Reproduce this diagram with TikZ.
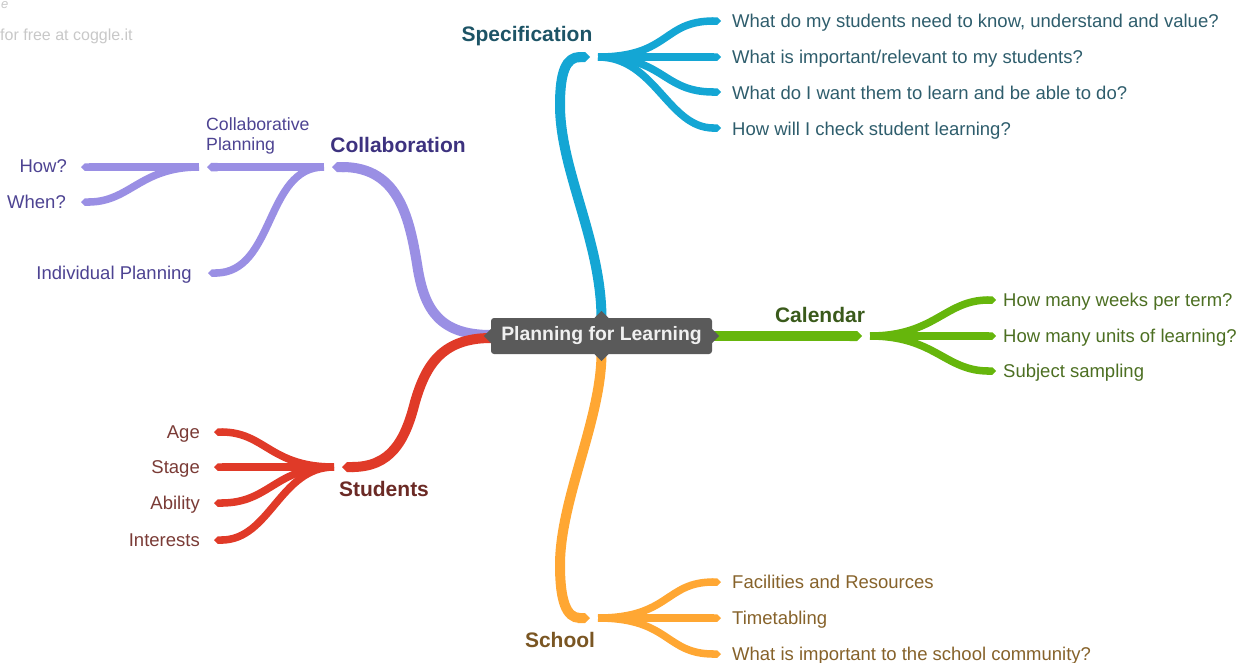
\documentclass[tikz,border=0pt]{standalone}
\usepackage{fontspec}
\setmainfont{Liberation Sans}
\usetikzlibrary{arrows.meta,backgrounds}
\definecolor{cblue}{HTML}{14A6D4}
\definecolor{cbluet}{HTML}{1D5466}
\definecolor{cbluel}{HTML}{2E5D6C}
\definecolor{cpurp}{HTML}{9A8FE4}
\definecolor{cpurpt}{HTML}{3D327F}
\definecolor{cpurpl}{HTML}{4D4392}
\definecolor{cred}{HTML}{E03A28}
\definecolor{credt}{HTML}{6B2A25}
\definecolor{credl}{HTML}{7A3B36}
\definecolor{corg}{HTML}{FFA733}
\definecolor{corgt}{HTML}{7A5623}
\definecolor{corgl}{HTML}{86622A}
\definecolor{cgrn}{HTML}{66B60C}
\definecolor{cgrnt}{HTML}{3A5A1B}
\definecolor{cgrnl}{HTML}{4C6F22}
\definecolor{cdark}{HTML}{5A5A5A}
\definecolor{cwm}{HTML}{C8C8C8}
\begin{document}
\begin{tikzpicture}[x=1pt,y=-1pt,
  trunk/.style={line width=10pt,-{Triangle Cap}},
  leaf/.style={line width=7.5pt,-{Triangle Cap}},
  lbl/.style={font=\fontsize{18.5}{22}\selectfont,inner sep=0pt,text height=14pt,text depth=2pt},
  lft/.style={lbl,anchor=west},
  rgt/.style={lbl,anchor=east},
  head/.style={font=\fontsize{21}{25}\selectfont\bfseries,inner sep=0pt},
  ptr/.style={fill=cdark}]
\useasboundingbox (0,0) rectangle (1239,662);

% watermark
\node[anchor=north west,inner sep=0pt,text=cwm,font=\fontsize{13}{13}\selectfont\itshape] (logo) at (1,1) {e};
\node[anchor=west,inner sep=0pt,text=cwm,font=\fontsize{16}{18}\selectfont] (wm) at (0,36) {for free at coggle.it};

% centre
\node[fill=cdark,rounded corners=3pt,minimum width=221pt,minimum height=36pt,inner sep=0pt,
      text=white!94!black,font=\fontsize{19.4}{22}\selectfont\bfseries] (C) at (601.5,336) {Planning for Learning};
\fill[ptr] ([xshift=-7pt]C.north) -- ([yshift=7pt]C.north) -- ([xshift=7pt]C.north) -- cycle;
\fill[ptr] ([xshift=-7pt]C.south) -- ([yshift=-7pt]C.south) -- ([xshift=7pt]C.south) -- cycle;
\fill[ptr] ([yshift=-7pt]C.west) -- ([xshift=-7pt]C.west) -- ([yshift=7pt]C.west) -- cycle;
\fill[ptr] ([yshift=-7pt]C.east) -- ([xshift=7pt]C.east) -- ([yshift=7pt]C.east) -- cycle;

% ---------- Specification ----------
\coordinate (sT) at (590,57);
\coordinate (sJ) at (598,57);
\coordinate (s1) at (721,21);
\coordinate (s2) at (721,57);
\coordinate (s3) at (721,92);
\coordinate (s4) at (721,128);
\node[head,text=cbluet] (spec) at (527,36) {Specification};
\node[lft,text=cbluel] (t1) at (732,21) {What do my students need to know, understand and value?};
\node[lft,text=cbluel] (t2) at (732,57) {What is important/relevant to my students?};
\node[lft,text=cbluel] (t3) at (732,93) {What do I want them to learn and be able to do?};
\node[lft,text=cbluel] (t4) at (732,129) {How will I check student learning?};

% ---------- Calendar ----------
\coordinate (kT) at (862,336);
\coordinate (kJ) at (870,336);
\coordinate (k1) at (996,300);
\coordinate (k2) at (996,336);
\coordinate (k3) at (996,371);
\node[head,text=cgrnt] (cal) at (820,315) {Calendar};
\node[lft,text=cgrnl] (u1) at (1003,300) {How many weeks per term?};
\node[lft,text=cgrnl] (u2) at (1003,336) {How many units of learning?};
\node[lft,text=cgrnl] (u3) at (1003,371) {Subject sampling};

% ---------- School ----------
\coordinate (hT) at (590,618);
\coordinate (hJ) at (598,618);
\coordinate (h1) at (721,582);
\coordinate (h2) at (721,618);
\coordinate (h3) at (721,654);
\node[head,text=corgt] (sch) at (560,640) {School};
\node[lft,text=corgl] (v1) at (732,582) {Facilities and Resources};
\node[lft,text=corgl] (v2) at (732,618) {Timetabling};
\node[lft,text=corgl] (v3) at (732,654) {What is important to the school community?};

% ---------- Collaboration ----------
\coordinate (cT) at (332,167);
\coordinate (cJ) at (324,167);
\coordinate (cpT) at (207,167);
\coordinate (cpJ) at (199,167);
\coordinate (hw) at (81,167);
\coordinate (wn) at (81,202);
\coordinate (ip) at (208,273);
\node[head,text=cpurpt] (col) at (398,145) {Collaboration};
\node[anchor=north west,inner sep=0pt,align=left,text=cpurpl,font=\fontsize{17.7}{20}\selectfont] (cp) at (206,117) {Collaborative\\Planning};
\node[rgt,text=cpurpl] (w1) at (67,166) {How?};
\node[rgt,text=cpurpl] (w2) at (66,202) {When?};
\node[rgt,text=cpurpl] (w3) at (192,273) {Individual Planning};

% ---------- Students ----------
\coordinate (stT) at (342,467);
\coordinate (stJ) at (334,467);
\coordinate (a1) at (214,432);
\coordinate (a2) at (214,467);
\coordinate (a3) at (214,503);
\coordinate (a4) at (214,540);
\node[head,text=credt] (stu) at (384,489) {Students};
\node[rgt,text=credl] (x1) at (200,432) {Age};
\node[rgt,text=credl] (x2) at (200,467) {Stage};
\node[rgt,text=credl] (x3) at (200,503) {Ability};
\node[rgt,text=credl] (x4) at (200,540) {Interests};

\begin{scope}[on background layer]
% specification
\draw[trunk,cblue] (C.north) .. controls (601,240) and (560,170) .. (560,105) .. controls (560,72) and (566,57) .. (sT);
\draw[leaf,cblue] (sJ) .. controls (670,57) and (662,21) .. (s1);
\draw[leaf,cblue] (sJ) -- (s2);
\draw[leaf,cblue] (sJ) .. controls (665,57) and (662,92) .. (s3);
\draw[leaf,cblue] (sJ) .. controls (655,57) and (668,128) .. (s4);
% calendar
\draw[trunk,cgrn] (C.east) -- (kT);
\draw[leaf,cgrn] (kJ) .. controls (935,336) and (945,300) .. (k1);
\draw[leaf,cgrn] (kJ) -- (k2);
\draw[leaf,cgrn] (kJ) .. controls (935,336) and (945,371) .. (k3);
% school
\draw[trunk,corg] (C.south) .. controls (601,420) and (560,500) .. (560,565) .. controls (560,600) and (566,618) .. (hT);
\draw[leaf,corg] (hJ) .. controls (670,618) and (665,582) .. (h1);
\draw[leaf,corg] (hJ) -- (h2);
\draw[leaf,corg] (hJ) .. controls (670,618) and (665,654) .. (h3);
% collaboration
\draw[trunk,cpurp] ([yshift=1pt]C.west) .. controls (440,335) and (425,310) .. (418,270) .. controls (410,220) and (400,167) .. (cT);
\draw[line width=8.5pt,-{Triangle Cap},cpurp] (cJ) -- (cpT);
\draw[leaf,cpurp] (cJ) .. controls (265,167) and (275,273) .. (ip);
\draw[leaf,cpurp] (cpJ) -- (hw);
\draw[leaf,cpurp] (cpJ) .. controls (140,167) and (130,202) .. (wn);
% students
\draw[trunk,cred] ([yshift=-2pt]C.west) .. controls (440,338) and (425,368) .. (415,402) .. controls (405,442) and (390,467) .. (stT);
\draw[leaf,cred] (stJ) .. controls (270,467) and (265,432) .. (a1);
\draw[leaf,cred] (stJ) -- (a2);
\draw[leaf,cred] (stJ) .. controls (275,467) and (270,503) .. (a3);
\draw[leaf,cred] (stJ) .. controls (280,467) and (270,540) .. (a4);
\end{scope}
\end{tikzpicture}
\end{document}
